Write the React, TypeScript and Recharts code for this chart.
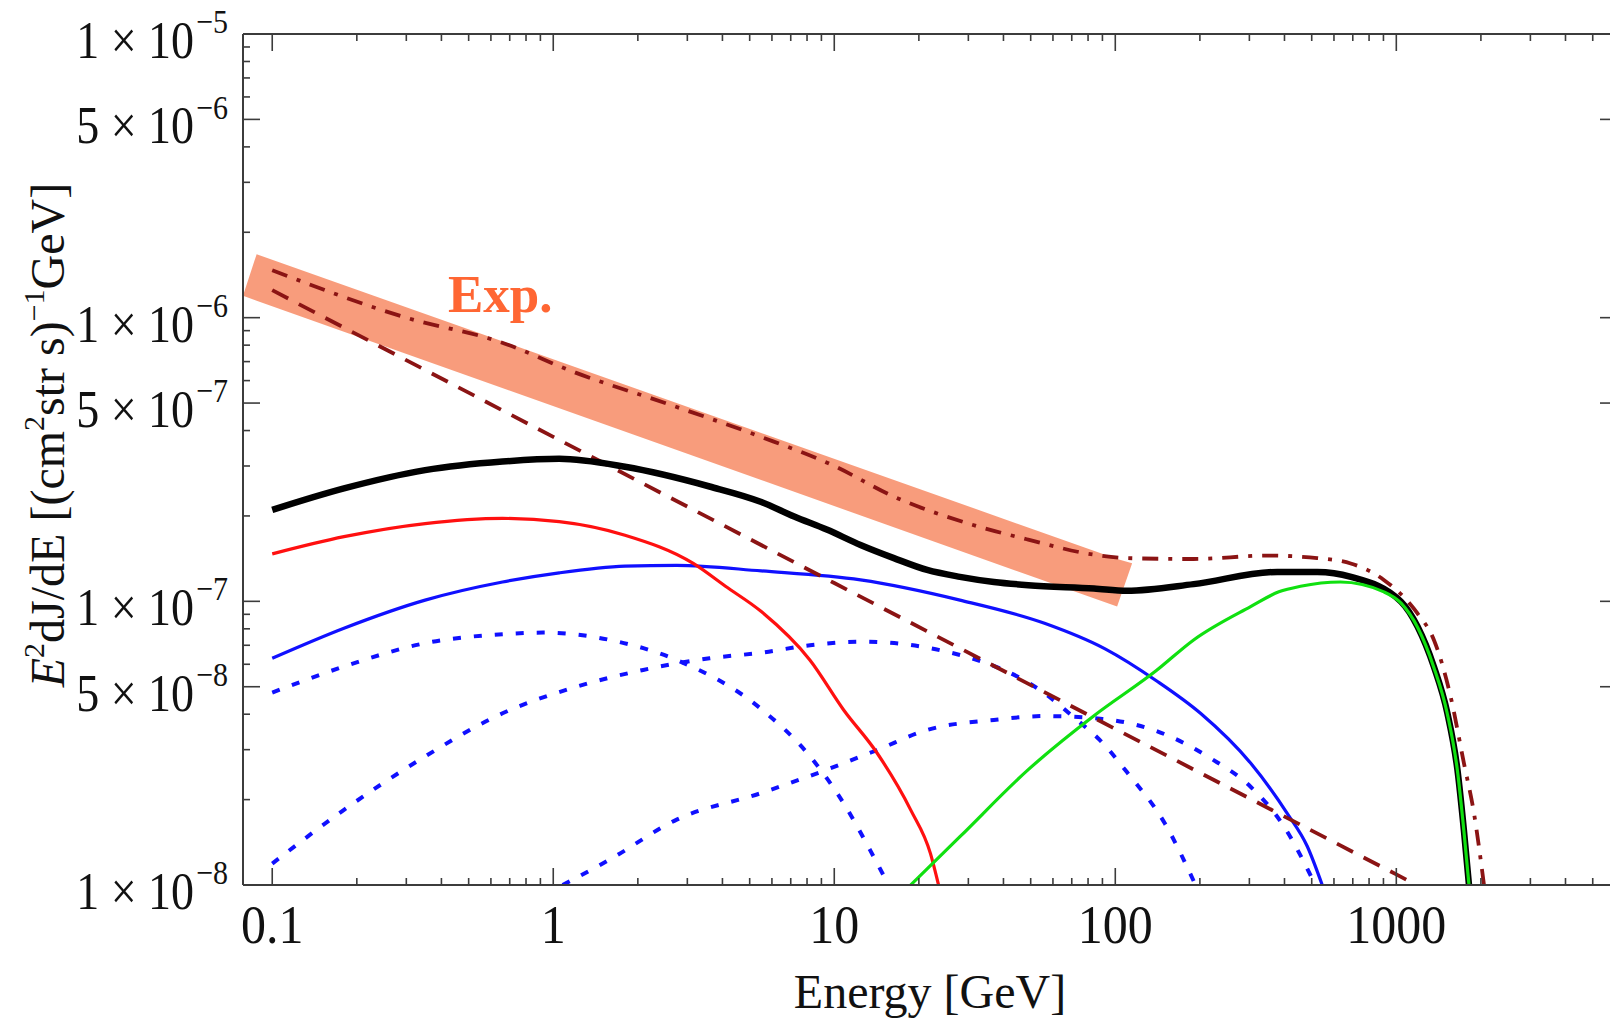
import { ComposedChart, Line, Area, XAxis, YAxis } from 'recharts';

const FONT = '"Liberation Serif", "Times New Roman", Times, serif';
const AXIS = '#3c3c3c';
const DARK_RED = '#8b1414';

// plot box in page pixels (chart margins + axis sizes below give these)
const PLOT_LEFT = 243;
const PLOT_RIGHT = 1617;
const PLOT_TOP = 34;
const PLOT_BOTTOM = 885;

const energyRange = [0.0787, 6100];
const fluxRange = [1e-8, 1e-5];

const energyLabelValues = [0.1, 1, 10, 100, 1000];
const energyLabels = ['0.1', '1', '10', '100', '1000'];
const fluxLabelValues = [1e-8, 5e-8, 1e-7, 5e-7, 1e-6, 5e-6, 1e-5];
const fluxLabelMantissas = ['1', '5', '1', '5', '1', '5', '1'];
const fluxLabelExponents = ['8', '8', '7', '7', '6', '6', '5'];

const energyTicks = [0.1, 1, 10, 100, 1000].flatMap((d) => [1, 2, 3, 4, 5, 6, 7, 8, 9].map((m) => m * d));
const fluxTicks = [1e-8, 1e-7, 1e-6].flatMap((d) => [1, 2, 3, 4, 5, 6, 7, 8, 9].map((m) => m * d)).concat([1e-5]);

// total (thick black)
const totalE = [0.1, 0.18, 0.35, 0.66, 1.05, 1.8, 3.6, 5.5, 7.2, 9.4, 12.4, 16.3, 21.4, 28, 37, 49, 84, 110, 190, 377, 523, 690, 1040, 1190, 1360, 1520, 1650, 1740, 1814];
const totalV = [2.1e-7, 2.5e-7, 2.9e-7, 3.11e-7, 3.18e-7, 2.98e-7, 2.54e-7, 2.24e-7, 1.99e-7, 1.79e-7, 1.58e-7, 1.42e-7, 1.29e-7, 1.22e-7, 1.17e-7, 1.14e-7, 1.11e-7, 1.09e-7, 1.15e-7, 1.27e-7, 1.27e-7, 1.22e-7, 9.97e-8, 8.15e-8, 5.89e-8, 4.03e-8, 2.55e-8, 1.56e-8, 1.0e-8];

// red
const redE = [0.1, 0.18, 0.35, 0.66, 1.05, 1.8, 3.15, 4.1, 5.5, 8.2, 10.8, 14.2, 18.7, 22, 23.5];
const redV = [1.47e-7, 1.69e-7, 1.88e-7, 1.96e-7, 1.91e-7, 1.71e-7, 1.36e-7, 1.13e-7, 9.2e-8, 6.2e-8, 4.14e-8, 2.92e-8, 1.84e-8, 1.29e-8, 1.0e-8];

// blue solid
const blueE = [0.1, 0.18, 0.35, 0.66, 1.05, 1.8, 2.75, 5.5, 12.4, 28, 56, 92, 140, 201, 303, 409, 482, 545];
const blueV = [6.3e-8, 8.04e-8, 1.01e-7, 1.17e-7, 1.26e-7, 1.33e-7, 1.34e-7, 1.28e-7, 1.19e-7, 1.01e-7, 8.37e-8, 6.8e-8, 5.25e-8, 4.03e-8, 2.69e-8, 1.79e-8, 1.37e-8, 1.0e-8];

// blue dotted components
const dotAE = [0.1, 0.18, 0.35, 0.66, 0.92, 1.59, 2.75, 5.5, 8.2, 10.8, 13.4, 15.6];
const dotAV = [4.77e-8, 5.89e-8, 7.12e-8, 7.66e-8, 7.76e-8, 7.31e-8, 6.21e-8, 4.17e-8, 2.84e-8, 1.94e-8, 1.33e-8, 1.0e-8];
const dotBE = [0.1, 0.18, 0.35, 0.66, 1.21, 2.09, 3.6, 5.5, 8.2, 12.4, 28, 56, 73, 88, 110, 150, 193];
const dotBV = [1.19e-8, 1.84e-8, 2.84e-8, 4.03e-8, 5.0e-8, 5.73e-8, 6.3e-8, 6.59e-8, 7.0e-8, 7.21e-8, 6.47e-8, 4.74e-8, 3.82e-8, 3.25e-8, 2.5e-8, 1.65e-8, 1.0e-8];
const dotCE = [1.08, 1.59, 2.75, 5.5, 9.4, 14.2, 21.4, 37, 56, 90, 150, 218, 303, 398, 515];
const dotCV = [1.0e-8, 1.23e-8, 1.7e-8, 2.11e-8, 2.55e-8, 2.99e-8, 3.52e-8, 3.82e-8, 3.94e-8, 3.85e-8, 3.4e-8, 2.8e-8, 2.22e-8, 1.61e-8, 1.0e-8];

// green
const greenE = [18.7, 28, 49, 84, 140, 190, 303, 382, 456, 633, 903, 1040, 1190, 1360, 1520, 1650, 1740, 1814];
const greenV = [1.0e-8, 1.48e-8, 2.55e-8, 3.95e-8, 5.7e-8, 7.31e-8, 9.58e-8, 1.08e-7, 1.13e-7, 1.17e-7, 1.08e-7, 9.85e-8, 8.1e-8, 5.85e-8, 4.0e-8, 2.53e-8, 1.55e-8, 1.0e-8];

// dark red dashed (power law) and dash-dot (sum)
const dashedE = [0.1, 1, 10, 100, 1000, 1180];
const dashedV = [1.25e-6, 3.8e-7, 1.16e-7, 3.55e-8, 1.09e-8, 1.0e-8];
const dashDotE = [0.1, 0.3, 0.65, 1.2, 2.5, 5.45, 10, 16.3, 30, 49, 84, 110, 190, 347, 523, 688, 903, 1188, 1361, 1561, 1740, 1890, 2051];
const dashDotV = [1.47e-6, 1.0e-6, 8.2e-7, 6.4e-7, 5.0e-7, 3.81e-7, 3.0e-7, 2.34e-7, 1.88e-7, 1.65e-7, 1.46e-7, 1.42e-7, 1.41e-7, 1.45e-7, 1.42e-7, 1.36e-7, 1.19e-7, 9.08e-8, 7.31e-8, 4.61e-8, 2.69e-8, 1.79e-8, 1.0e-8];

// experimental band (slanted ends)
const bandE = [0.0787, 0.088, 101.5, 114.8];
const bandLow = [1.195e-6, 1.148e-6, 9.58e-8, 1.362e-7];
const bandHigh = [1.195e-6, 1.674e-6, 1.41e-7, 1.362e-7];

type Row = { E: number; [key: string]: number | number[] };

const rows: Row[] = [];
const addSeries = (key: string, es: number[], vs: number[]) => {
  es.forEach((e, i) => rows.push({ E: e, [key]: vs[i] }));
};
addSeries('total', totalE, totalV);
addSeries('red', redE, redV);
addSeries('blue', blueE, blueV);
addSeries('dotA', dotAE, dotAV);
addSeries('dotB', dotBE, dotBV);
addSeries('dotC', dotCE, dotCV);
addSeries('green', greenE, greenV);
addSeries('dashed', dashedE, dashedV);
addSeries('dashDot', dashDotE, dashDotV);
bandE.forEach((e, i) => rows.push({ E: e, band: [bandLow[i], bandHigh[i]] }));
rows.sort((a, b) => a.E - b.E);

const sameValue = (a: number, b: number) => Math.abs(a / b - 1) < 1e-6;

const EnergyTick = (props: any) => {
  const { x, payload, side } = props;
  const v = payload.value;
  const idx = energyLabelValues.findIndex((t) => sameValue(t, v));
  const len = idx >= 0 ? 17 : 7;
  const y0 = side === 'top' ? PLOT_TOP : PLOT_BOTTOM;
  const y1 = side === 'top' ? y0 + len : y0 - len;
  return (
    <g>
      <line x1={x} x2={x} y1={y0} y2={y1} stroke={AXIS} strokeWidth={1.6} />
      {side === 'bottom' && idx >= 0 && (
        <g transform={`translate(${x},943) scale(1,1.1)`}>
          <text x={0} y={0} textAnchor="middle" fontFamily={FONT} fontSize={50} fill="#111">
            {energyLabels[idx]}
          </text>
        </g>
      )}
    </g>
  );
};

const FluxTick = (props: any) => {
  const { y, payload, side } = props;
  const v = payload.value;
  const idx = fluxLabelValues.findIndex((t) => sameValue(t, v));
  const len = idx >= 0 ? 17 : 7;
  const x0 = side === 'right' ? PLOT_RIGHT : PLOT_LEFT;
  const x1 = side === 'right' ? x0 - len : x0 + len;
  return (
    <g>
      <line x1={x0} x2={x1} y1={y} y2={y} stroke={AXIS} strokeWidth={1.6} />
      {side === 'left' && idx >= 0 && (
        <g transform={`translate(228,${y + 24}) scale(1,1.13)`}>
          <text x={0} y={0} textAnchor="end" fontFamily={FONT} fontSize={46} fill="#111">
            {fluxLabelMantissas[idx]} × 10
            <tspan fontSize={30} dx={2} dy={-22}>
              −{fluxLabelExponents[idx]}
            </tspan>
          </text>
        </g>
      )}
    </g>
  );
};

const axisCommon = {
  type: 'number' as const,
  scale: 'log' as const,
  allowDataOverflow: true,
  interval: 0 as const,
  tickSize: 0,
  tickMargin: 0,
  tickLine: false,
  axisLine: { stroke: AXIS, strokeWidth: 2 },
};

const App = () => {
  return (
    <div
      style={{
        position: 'absolute',
        left: 0,
        top: 0,
        width: 1610,
        height: 1024,
        overflow: 'hidden',
        background: '#fff',
      }}
    >
      <ComposedChart width={1618} height={1024} data={rows} margin={{ top: 33, right: 0, bottom: 0, left: 0 }}>
        <XAxis
          {...axisCommon}
          xAxisId="bottom"
          dataKey="E"
          domain={energyRange}
          ticks={energyTicks}
          height={139}
          tick={(p: any) => <EnergyTick {...p} side="bottom" />}
        />
        <XAxis
          {...axisCommon}
          xAxisId="top"
          orientation="top"
          dataKey="E"
          domain={energyRange}
          ticks={energyTicks}
          height={1}
          tick={(p: any) => <EnergyTick {...p} side="top" />}
        />
        <YAxis
          {...axisCommon}
          yAxisId="left"
          domain={fluxRange}
          ticks={fluxTicks}
          width={243}
          tick={(p: any) => <FluxTick {...p} side="left" />}
        />
        <YAxis
          {...axisCommon}
          yAxisId="right"
          orientation="right"
          domain={fluxRange}
          ticks={fluxTicks}
          width={1}
          tick={(p: any) => <FluxTick {...p} side="right" />}
        />

        <Line xAxisId="bottom" yAxisId="left" dataKey="dotA" type="monotone" stroke="#1010ff" strokeWidth={4} strokeDasharray="8 13" dot={false} activeDot={false} connectNulls isAnimationActive={false} />
        <Line xAxisId="bottom" yAxisId="left" dataKey="dotB" type="monotone" stroke="#1010ff" strokeWidth={4} strokeDasharray="8 13" dot={false} activeDot={false} connectNulls isAnimationActive={false} />
        <Line xAxisId="bottom" yAxisId="left" dataKey="dotC" type="monotone" stroke="#1010ff" strokeWidth={4} strokeDasharray="8 13" dot={false} activeDot={false} connectNulls isAnimationActive={false} />
        <Line xAxisId="bottom" yAxisId="left" dataKey="blue" type="monotone" stroke="#1010ff" strokeWidth={3.2} dot={false} activeDot={false} connectNulls isAnimationActive={false} />
        <Line xAxisId="bottom" yAxisId="left" dataKey="red" type="monotone" stroke="#ff1010" strokeWidth={3.2} dot={false} activeDot={false} connectNulls isAnimationActive={false} />
        <Line xAxisId="bottom" yAxisId="left" dataKey="dashed" type="linear" stroke={DARK_RED} strokeWidth={3.8} strokeDasharray="18 12" dot={false} activeDot={false} connectNulls isAnimationActive={false} />
        <Line xAxisId="bottom" yAxisId="left" dataKey="dashDot" type="monotone" stroke={DARK_RED} strokeWidth={3.8} strokeDasharray="16 10 4 10" dot={false} activeDot={false} connectNulls isAnimationActive={false} />
        <Line xAxisId="bottom" yAxisId="left" dataKey="total" type="monotone" stroke="#000" strokeWidth={6.5} dot={false} activeDot={false} connectNulls isAnimationActive={false} />
        <Line xAxisId="bottom" yAxisId="left" dataKey="green" type="monotone" stroke="#10e010" strokeWidth={3.2} dot={false} activeDot={false} connectNulls isAnimationActive={false} />
        <Area xAxisId="bottom" yAxisId="left" dataKey="band" type="linear" stroke="none" fill="#f24a10" fillOpacity={0.55} dot={false} activeDot={false} connectNulls isAnimationActive={false} />

        <text x={448} y={312} fontFamily={FONT} fontSize={53} fontWeight="bold" fill="#ff6633">
          Exp.
        </text>
        <text x={930} y={1008} textAnchor="middle" fontFamily={FONT} fontSize={48} fill="#111">
          Energy [GeV]
        </text>
        <text transform="translate(64,435) rotate(-90)" textAnchor="middle" fontFamily={FONT} fontSize={48} fill="#111">
          <tspan fontStyle="italic">E</tspan>
          <tspan fontSize={30} dy={-20}>2</tspan>
          <tspan dy={20}>dJ/dE [(cm</tspan>
          <tspan fontSize={30} dy={-20}>2</tspan>
          <tspan dy={20}>str s)</tspan>
          <tspan fontSize={30} dy={-20}>−1</tspan>
          <tspan dy={20}>GeV]</tspan>
        </text>
      </ComposedChart>
    </div>
  );
};

export default App;
